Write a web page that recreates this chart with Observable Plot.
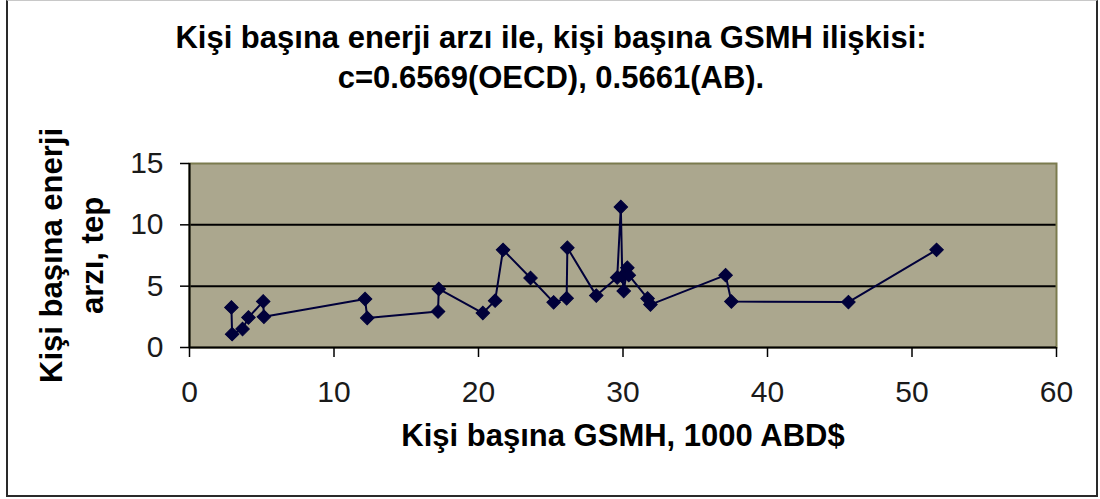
<!DOCTYPE html>
<html>
<head>
<meta charset="utf-8">
<script src="https://cdn.jsdelivr.net/npm/d3@7"></script>
<script src="https://cdn.jsdelivr.net/npm/@observablehq/plot@0.6"></script>
<style>
  html, body { margin: 0; padding: 0; background: #fff; }
  #wrap { position: relative; width: 1100px; height: 499px; overflow: hidden; background: #fff;
          font-family: "Liberation Sans", Arial, sans-serif; }
  #border { position: absolute; left: 6px; top: 0px; width: 1088px; height: 494px;
            border-left: 2px solid #2a2a2a; border-right: 2px solid #2a2a2a;
            border-bottom: 2px solid #2a2a2a; border-top: 1px solid #c8c8c8; pointer-events: none; }
  #title { height: 110px; box-sizing: border-box; padding-top: 18px; text-align: center;
           font-weight: bold; font-size: 31px; line-height: 40px; color: #000; padding-left: 2px; }
  #chart svg { display: block; overflow: visible; }
</style>
</head>
<body>
<div id="wrap">
  <div id="title">
    <div>Kişi başına enerji arzı ile, kişi başına GSMH ilişkisi:</div>
    <div>c=0.6569(OECD), 0.5661(AB).</div>
  </div>
  <div id="chart"></div>
  <div id="border"></div>
</div>
<script>
// GNP per capita (1000 USD)
const gsmh = [2.9, 2.95, 3.67, 4.08, 5.1, 5.15, 12.15, 12.3, 17.2, 17.25, 20.3, 21.15, 21.7, 23.6, 25.2,
              26.1, 26.15, 28.15, 29.6, 29.85, 29.95, 30.05, 30.3, 30.4, 31.7, 31.9, 37.1, 37.5, 45.6, 51.7];
// Energy supply per capita (toe)
const enerji = [3.27, 1.09, 1.5, 2.45, 3.76, 2.51, 3.96, 2.4, 2.94, 4.77, 2.81, 3.82, 7.96, 5.67, 3.68,
                4.01, 8.13, 4.23, 5.7, 11.45, 5.8, 4.6, 6.5, 5.9, 4.0, 3.5, 5.9, 3.75, 3.7, 7.96];
const xTicks = [0, 10, 20, 30, 40, 50, 60];
const yTicks = [0, 5, 10, 15];
const gridValues = [5, 10];
const xLabel = "Kişi başına GSMH, 1000 ABD$";
const yLabel1 = "Kişi başına enerji";
const yLabel2 = "arzı, tep";

const data = gsmh.map((x, i) => ({x, y: enerji[i]}));
const ink = "#00003a";

const chart = Plot.plot({
  width: 1100,
  height: 389,
  marginTop: 53,
  marginBottom: 152,
  marginLeft: 189,
  marginRight: 44,
  style: {fontFamily: "Liberation Sans, Arial, sans-serif", fontSize: "30px", background: "transparent", color: "#1a1a1a", overflow: "visible"},
  x: {domain: [0, 60]},
  y: {domain: [0, 15]},
  marks: [
    Plot.frame({fill: "#aba78e", stroke: null}),
    Plot.ruleY(gridValues, {stroke: "#000", strokeWidth: 2}),
    Plot.frame({stroke: "#7b7b4e", strokeWidth: 2}),
    Plot.ruleY([0], {stroke: "#000", strokeWidth: 2}),
    Plot.ruleX([0], {stroke: "#000", strokeWidth: 2}),
    Plot.axisX({ticks: xTicks, tickSize: 10, tickPadding: 23, label: null, stroke: "#000", strokeWidth: 1.5}),
    Plot.axisY({ticks: yTicks, tickSize: 9, tickPadding: 17, label: null, stroke: "#000", strokeWidth: 1.5}),
    Plot.line(data, {x: "x", y: "y", stroke: ink, strokeWidth: 2}),
    Plot.dot(data, {x: "x", y: "y", symbol: "square", r: 5.4, rotate: 45, fill: ink, stroke: ink, strokeWidth: 1}),
    Plot.text([xLabel], {frameAnchor: "bottom", dy: 98, fontSize: 31, fontWeight: "bold", fill: "#000"}),
    Plot.text([yLabel1], {frameAnchor: "left", textAnchor: "middle", dx: -137, rotate: -90, fontSize: 31, fontWeight: "bold", fill: "#000"}),
    Plot.text([yLabel2], {frameAnchor: "left", textAnchor: "middle", dx: -96, rotate: -90, fontSize: 31, fontWeight: "bold", fill: "#000"})
  ]
});
document.getElementById("chart").appendChild(chart);
</script>
</body>
</html>
